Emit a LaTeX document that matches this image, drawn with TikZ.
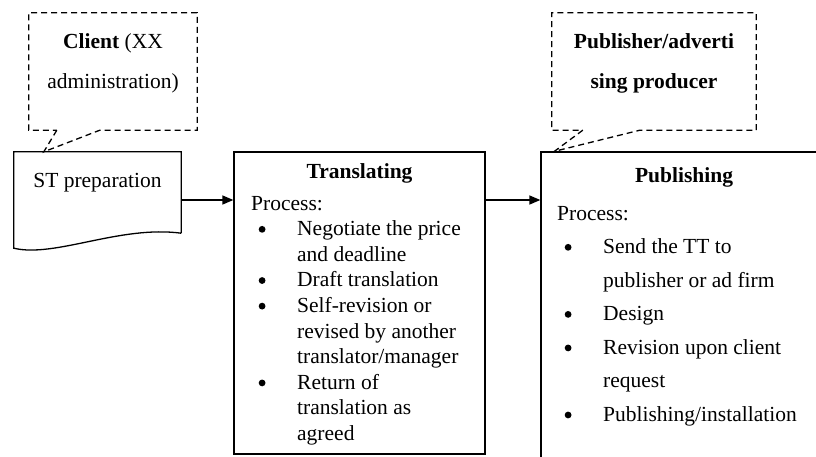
\documentclass[tikz,border=0pt]{standalone}
\usepackage{fontspec}
\setmainfont{Liberation Serif}
\usetikzlibrary{arrows.meta, positioning}
\newcommand{\pbullet}{\hspace*{7.5pt}\raisebox{3pt}{\tikz\fill (0pt,0pt) circle (3.4pt);}}

\begin{document}
\begin{tikzpicture}[
    x=1pt, y=-1pt,
    every node/.style={font=\fontsize{21.5}{25.6}\selectfont, inner sep=0pt},
    box/.style={rectangle, draw, line width=1.3pt},
    bubble/.style={rectangle, minimum width=#1, minimum height=117pt},
    dashline/.style={line width=1.3pt, dash pattern=on 6pt off 4pt},
    arr/.style={-{Triangle[length=11pt, width=9pt]}, line width=1.5pt},
    head/.style={font=\fontsize{21.5}{25.6}\selectfont\bfseries},
    calltext/.style={align=center, font=\fontsize{21.5}{40}\selectfont},
    callbold/.style={align=center, font=\fontsize{21.5}{40}\selectfont\bfseries},
    list/.style={anchor=north west}
  ]
    \clip (0,0) rectangle (816,456);

    % speech bubbles
    \node[bubble=168pt] (client) at (113,71.5) {};
    \node[bubble=204pt] (publisher) at (654,71.5) {};

    % process boxes
    \node[rectangle, minimum width=167pt, minimum height=96pt] (st) at (97.5,200) {};
    \node[box, minimum width=251pt, minimum height=302pt] (tr) at (359.5,303) {};
    \node[box, minimum width=286pt, minimum height=330pt] (pub) at (684,317) {};

    \coordinate (cltip) at ([xshift=30pt]st.north west);
    \coordinate (pbtip) at ([xshift=14pt]pub.north west);

    % document shape
    \draw[line width=1.3pt] ([yshift=15pt]st.south east) -- (st.north east)
      -- (st.north west) -- (st.south west)
      .. controls (55,258) and (120,225) .. ([yshift=15pt]st.south east);

    \draw[dashline] ([xshift=28pt]client.south west) -- (cltip)
      -- ([xshift=71pt]client.south west) -- (client.south east)
      -- (client.north east) -- (client.north west) -- (client.south west) -- cycle;
    \draw[dashline] ([xshift=31pt]publisher.south west) -- (pbtip)
      -- ([xshift=88pt]publisher.south west) -- (publisher.south east)
      -- (publisher.north east) -- (publisher.north west) -- (publisher.south west) -- cycle;

    \node[calltext] (clienttext) at (113,63) {\textbf{Client} (XX\\administration)};
    \node[callbold] (pubtext) at (654,63) {Publisher/adverti\\sing producer};

    \node (sttext) at ([yshift=-31pt]st.north) {ST preparation};

    \node[head] (trhead) at ([yshift=-22pt]tr.north) {Translating};
    \node[list] (trlist) at (251,192) {%
      \begin{tabular}{@{}p{46pt}@{}l@{}}
        \multicolumn{2}{@{}l@{}}{Process:}\\
        \pbullet & Negotiate the price\\
                 & and deadline\\
        \pbullet & Draft translation\\
        \pbullet & Self-revision or\\
                 & revised by another\\
                 & translator/manager\\
        \pbullet & Return of\\
                 & translation as\\
                 & agreed
      \end{tabular}};

    \node[head] (pubhead) at ([yshift=-26pt]pub.north) {Publishing};
    \node[list] (publist) at (557,196.5) {%
      \renewcommand{\arraystretch}{1.31}%
      \begin{tabular}{@{}p{46pt}@{}l@{}}
        \multicolumn{2}{@{}l@{}}{Process:}\\
        \pbullet & Send the TT to\\
                 & publisher or ad firm\\
        \pbullet & Design\\
        \pbullet & Revision upon client\\
                 & request\\
        \pbullet & Publishing/installation
      \end{tabular}};

    \draw[arr] (st.east) -- (st.east -| tr.west);
    \draw[arr] (tr.east |- st.east) -- (pub.west |- st.east);
  \end{tikzpicture}
\end{document}
